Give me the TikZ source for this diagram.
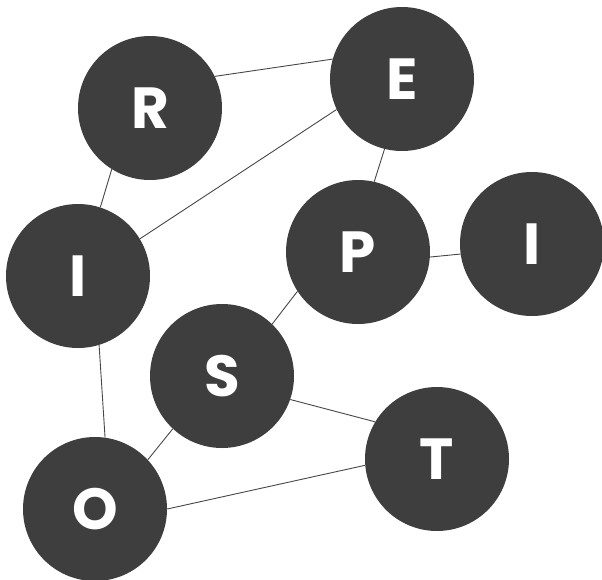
\documentclass[tikz,border=0pt]{standalone}
\usepackage{fontspec}
\newfontfamily\poppins{Poppins}
\definecolor{disc}{HTML}{3E3E3E}
\definecolor{edge}{HTML}{474747}
\tikzset{
  letter/.style={circle, minimum size=144pt, inner sep=0pt, fill=disc, text=white,
    font=\poppins\bfseries\fontsize{58}{58}\selectfont},
  link/.style={draw=edge, line width=0.9pt}
}
\begin{document}
\begin{tikzpicture}[x=1pt,y=1pt]
\useasboundingbox (0,0) rectangle (602,-579);
\node[letter] (R) at (150,-108) {R};
\node[letter] (E) at (402,-79) {E};
\node[letter] (I1) at (78,-276) {I};
\node[letter] (P) at (358,-252) {P};
\node[letter] (I2) at (532,-244) {I};
\node[letter] (S) at (222,-376) {S};
\node[letter] (T) at (437,-459) {T};
\node[letter] (O) at (95,-509) {O};
\path[link] (R.26.6) -- (E.164.6);
\path[link] (R.238.5) -- (I1.72.3);
\path[link] (E.205.5) -- (I1.31.1);
\path[link] (E.256.5) -- (P.77.9);
\path[link] (P.-4.8) -- (I2.188.1);
\path[link] (P.213.7) -- (S.46.7);
\path[link] (I1.-73.8) -- (O.82.9);
\path[link] (S.227.2) -- (O.43.9);
\path[link] (S.-19.4) -- (T.149.9);
\path[link] (O.0.8) -- (T.185.6);
\end{tikzpicture}
\end{document}
